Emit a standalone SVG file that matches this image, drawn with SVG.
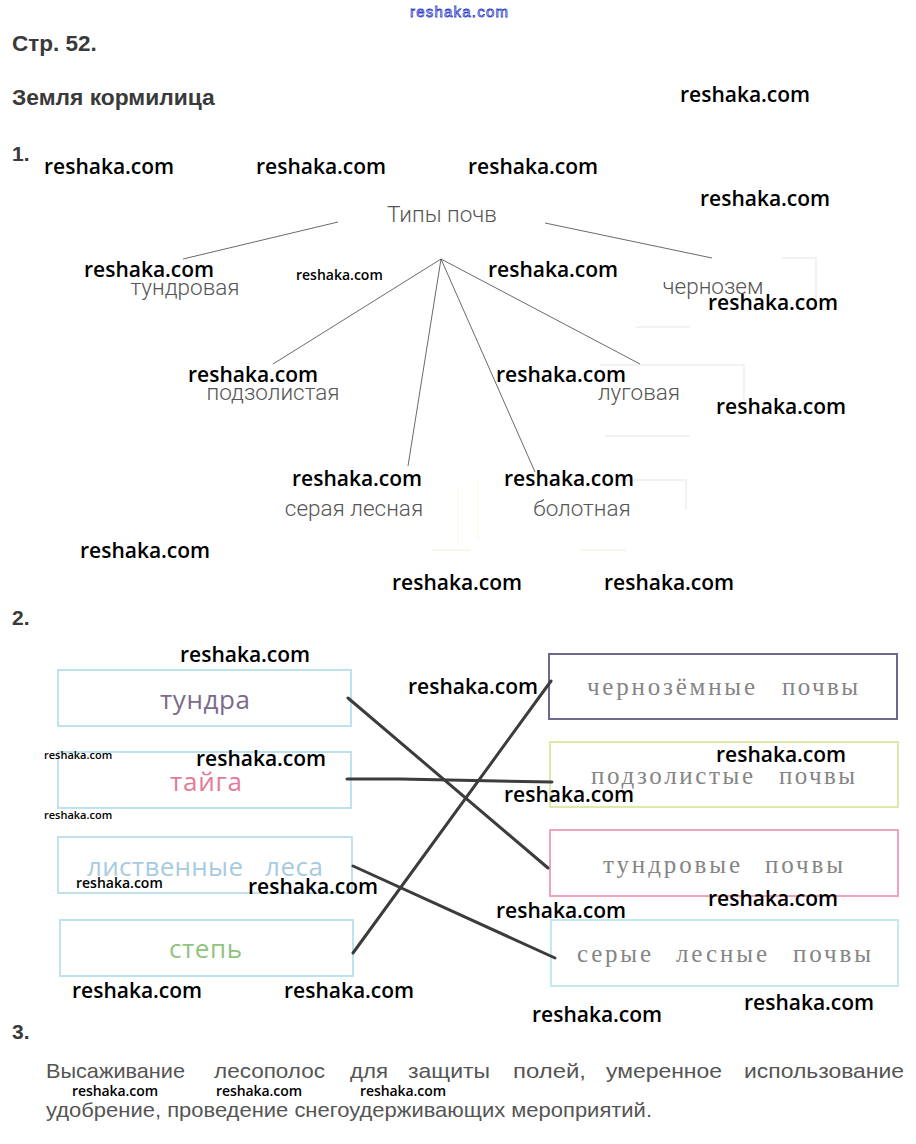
<svg xmlns="http://www.w3.org/2000/svg" width="916" height="1144" viewBox="0 0 916 1144">
<style>
.h{font-family:"Liberation Sans",Arial,sans-serif;font-weight:bold;fill:#3a3a3a}
.num{font-family:"Liberation Sans",Arial,sans-serif;font-weight:bold;font-size:21px;fill:#3a3a3a}
.wm{font-family:"Open Sans","Noto Sans",sans-serif;font-weight:600;font-size:21px;fill:#000}
.wms{font-family:"Open Sans","Noto Sans",sans-serif;font-weight:600;font-size:14px;fill:#000}
.wmx{font-family:"Open Sans","Noto Sans",sans-serif;font-weight:600;font-size:11px;fill:#000}
.t{font-family:Roboto,"Noto Sans",sans-serif;font-weight:300;font-size:22.5px;fill:#555;text-anchor:middle}
.tl{stroke:#444;stroke-width:0.8;fill:none}
.faint{stroke:#eeeeee;stroke-width:1.5;fill:none}
.lb{fill:#fff;stroke:#bfe2ee;stroke-width:2}
.lt{font-family:"Open Sans","Noto Sans",sans-serif;font-size:26px}
.rt{font-family:"Liberation Serif","Times New Roman",serif;font-size:25px;fill:#858585}
.cn{stroke:#3c3c3c;stroke-width:3;fill:none;stroke-linecap:round}
.p{font-family:"Liberation Sans",Arial,sans-serif;font-size:21px;fill:#555}
</style>
<rect width="916" height="1144" fill="#fff"/>
<text x="410" y="17" font-family="Liberation Sans,Arial,sans-serif" font-size="15" fill="#fff" stroke="#3344cc" stroke-width="0.8" textLength="98">reshaka.com</text>
<text class="h" x="12" y="51" font-size="22.5">Стр. 52.</text>
<text class="h" x="12" y="105" font-size="22.8">Земля кормилица</text>
<text class="num" x="12" y="161">1.</text>
<text class="num" x="12" y="625">2.</text>
<text class="num" x="12" y="1039">3.</text>

<g id="faint-boxes">
<path class="faint" d="M782 258 H816 V300"/>
<path class="faint" d="M636 327 H690"/>
<path class="faint" d="M600 365 H744 V400"/>
<path class="faint" d="M605 436 H690"/>
<path class="faint" d="M620 480 H686 V510"/>
<path class="faint" d="M432 550 H470 M580 550 H626" style="stroke:#f6f6e4"/>
<path class="faint" d="M458 488 V545 M478 480 V540" style="stroke:#fbfbec"/>
</g>

<g id="tree-connectors">
<line class="tl" x1="338" y1="222" x2="183" y2="259"/>
<line class="tl" x1="545" y1="223" x2="712" y2="258"/>
<line class="tl" x1="441" y1="259" x2="273" y2="364"/>
<line class="tl" x1="441" y1="259" x2="640" y2="364"/>
<line class="tl" x1="441" y1="259" x2="408" y2="466"/>
<line class="tl" x1="441" y1="259" x2="535" y2="472"/>
</g>
<g id="n-root"><text class="t" x="442" y="222">Типы почв</text></g>
<g id="n-tundr"><text class="t" x="185" y="295">тундровая</text></g>
<g id="n-chern"><text class="t" x="713" y="294">чернозем</text></g>
<g id="n-podz"><text class="t" x="273" y="400">подзолистая</text></g>
<g id="n-lug"><text class="t" x="639" y="400">луговая</text></g>
<g id="n-ser"><text class="t" x="354" y="516">серая лесная</text></g>
<g id="n-bol"><text class="t" x="582" y="516">болотная</text></g>

<g id="l-tundra"><rect class="lb" x="58" y="670" width="293" height="56"/><text class="lt" x="160" y="709" fill="#7b6b8c" textLength="90">тундра</text></g>
<g id="l-taiga"><rect class="lb" x="58" y="752" width="293" height="56"/><text class="lt" x="170" y="791" fill="#e57a9a" textLength="72">тайга</text></g>
<g id="l-forest"><rect class="lb" x="58" y="837" width="294" height="56"/><text class="lt" x="87" y="876" fill="#a9cbe0" textLength="156">лиственные</text><text class="lt" x="265" y="876" fill="#a9cbe0" textLength="58">леса</text></g>
<g id="l-steppe"><rect class="lb" x="60" y="920" width="293" height="56"/><text class="lt" x="169" y="958" fill="#8fc47e" textLength="73">степь</text></g>

<g id="r-chern"><rect x="549" y="654" width="348" height="65" fill="#fff" stroke="#6c6a8a" stroke-width="2"/>
<text class="rt" x="587" y="695" textLength="168">чернозёмные</text><text class="rt" x="782" y="695" textLength="76">почвы</text></g>
<g id="r-podz"><rect x="550" y="742" width="348" height="65" fill="#fff" stroke="#dbeaa6" stroke-width="2"/>
<text class="rt" x="591" y="784" textLength="162">подзолистые</text><text class="rt" x="779" y="784" textLength="76">почвы</text></g>
<g id="r-tundr"><rect x="550" y="830" width="348" height="66" fill="#fff" stroke="#f0a4bc" stroke-width="2"/>
<text class="rt" x="603" y="873" textLength="137">тундровые</text><text class="rt" x="765" y="873" textLength="78">почвы</text></g>
<g id="r-ser"><rect x="551" y="920" width="347" height="66" fill="#fff" stroke="#c4e8f0" stroke-width="2"/>
<text class="rt" x="577" y="962" textLength="74">серые</text><text class="rt" x="676" y="962" textLength="91">лесные</text><text class="rt" x="793" y="962" textLength="78">почвы</text></g>

<g id="match-connectors">
<line class="cn" x1="348" y1="698" x2="548" y2="868"/>
<path class="cn" d="M347 779 L400 779 L552 782"/>
<line class="cn" x1="353" y1="866" x2="555" y2="958"/>
<line class="cn" x1="353" y1="953" x2="551" y2="681"/>
</g>

<g id="para">
<text class="p" y="1078" x="46" textLength="139" lengthAdjust="spacingAndGlyphs">Высаживание</text>
<text class="p" y="1078" x="214" textLength="111" lengthAdjust="spacingAndGlyphs">лесополос</text>
<text class="p" y="1078" x="350" textLength="38" lengthAdjust="spacingAndGlyphs">для</text>
<text class="p" y="1078" x="408" textLength="82" lengthAdjust="spacingAndGlyphs">защиты</text>
<text class="p" y="1078" x="513" textLength="73" lengthAdjust="spacingAndGlyphs">полей,</text>
<text class="p" y="1078" x="606" textLength="116" lengthAdjust="spacingAndGlyphs">умеренное</text>
<text class="p" y="1078" x="744" textLength="160" lengthAdjust="spacingAndGlyphs">использование</text>
<text class="p" x="46" y="1117" textLength="606" lengthAdjust="spacingAndGlyphs">удобрение, проведение снегоудерживающих мероприятий.</text>
</g>

<g id="watermarks">
<text class="wm" x="44" y="174">reshaka.com</text>
<text class="wm" x="256" y="174">reshaka.com</text>
<text class="wm" x="468" y="174">reshaka.com</text>
<text class="wm" x="680" y="102">reshaka.com</text>
<text class="wm" x="700" y="206">reshaka.com</text>
<text class="wm" x="84" y="277">reshaka.com</text>
<text class="wms" x="296" y="280">reshaka.com</text>
<text class="wm" x="488" y="277">reshaka.com</text>
<text class="wm" x="708" y="310">reshaka.com</text>
<text class="wm" x="188" y="382">reshaka.com</text>
<text class="wm" x="496" y="382">reshaka.com</text>
<text class="wm" x="716" y="414">reshaka.com</text>
<text class="wm" x="292" y="486">reshaka.com</text>
<text class="wm" x="504" y="486">reshaka.com</text>
<text class="wm" x="80" y="558">reshaka.com</text>
<text class="wm" x="392" y="590">reshaka.com</text>
<text class="wm" x="604" y="590">reshaka.com</text>
<text class="wm" x="180" y="662">reshaka.com</text>
<text class="wm" x="408" y="694">reshaka.com</text>
<text class="wmx" x="44" y="759">reshaka.com</text>
<text class="wm" x="196" y="766">reshaka.com</text>
<text class="wm" x="716" y="762">reshaka.com</text>
<text class="wm" x="504" y="802">reshaka.com</text>
<text class="wmx" x="44" y="819">reshaka.com</text>
<text class="wms" x="76" y="888">reshaka.com</text>
<text class="wm" x="248" y="894">reshaka.com</text>
<text class="wm" x="496" y="918">reshaka.com</text>
<text class="wm" x="708" y="906">reshaka.com</text>
<text class="wm" x="72" y="998">reshaka.com</text>
<text class="wm" x="284" y="998">reshaka.com</text>
<text class="wm" x="532" y="1022">reshaka.com</text>
<text class="wm" x="744" y="1010">reshaka.com</text>
<text class="wms" x="72" y="1096" textLength="86">reshaka.com</text>
<text class="wms" x="216" y="1096" textLength="86">reshaka.com</text>
<text class="wms" x="360" y="1096" textLength="86">reshaka.com</text>
</g>
</svg>
